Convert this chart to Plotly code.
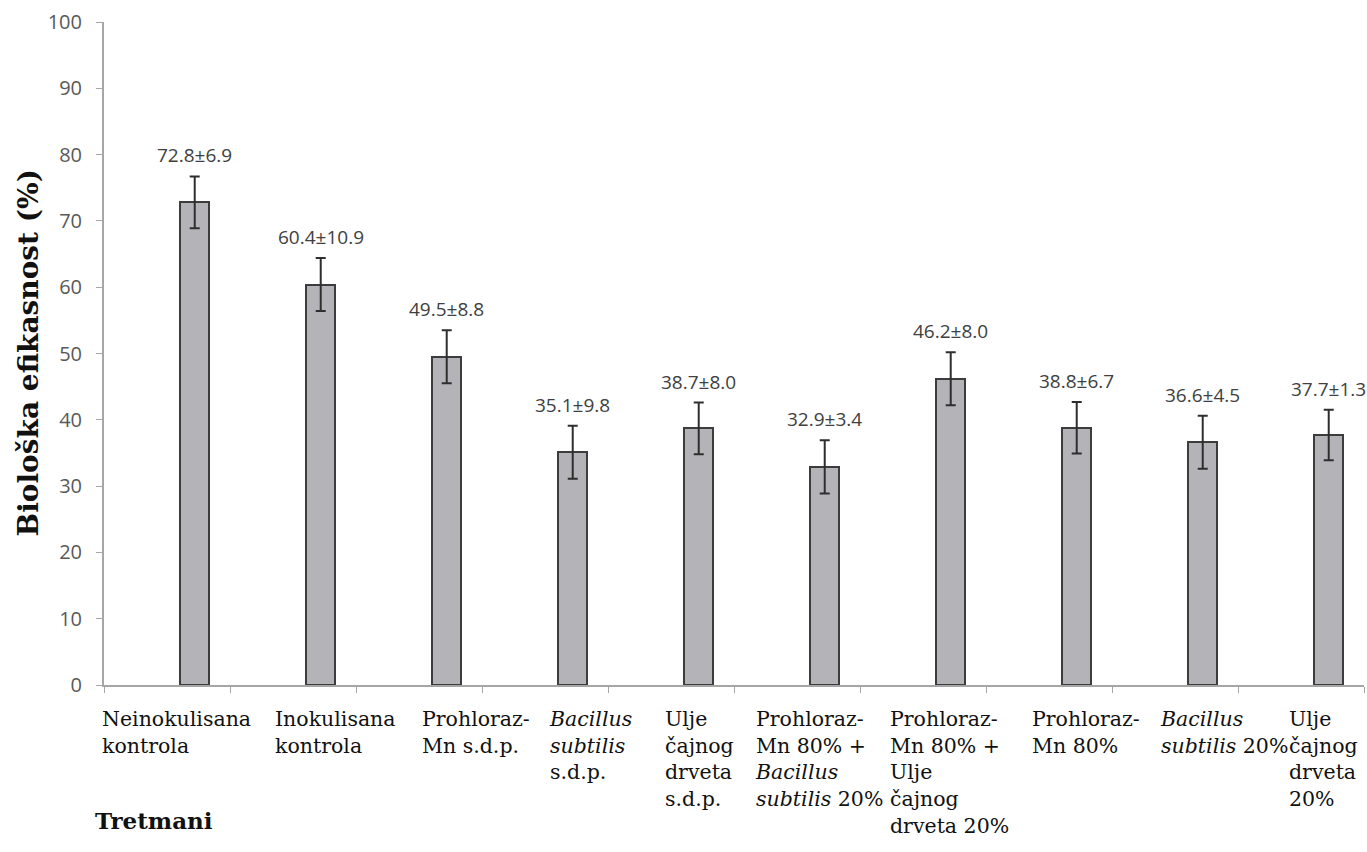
import plotly.graph_objects as go

categories = [
    "Neinokulisana<br>kontrola",
    "Inokulisana<br>kontrola",
    "Prohloraz-<br>Mn s.d.p.",
    "<i>Bacillus</i><br><i>subtilis</i><br>s.d.p.",
    "Ulje<br>čajnog<br>drveta<br>s.d.p.",
    "Prohloraz-<br>Mn 80% +<br><i>Bacillus</i><br><i>subtilis</i> 20%",
    "Prohloraz-<br>Mn 80% +<br>Ulje<br>čajnog<br>drveta 20%",
    "Prohloraz-<br>Mn 80%",
    "<i>Bacillus</i><br><i>subtilis</i> 20%",
    "Ulje<br>čajnog<br>drveta<br>20%",
]
values = [72.8, 60.4, 49.5, 35.1, 38.7, 32.9, 46.2, 38.8, 36.6, 37.7]
sd_text = [6.9, 10.9, 8.8, 9.8, 8.0, 3.4, 8.0, 6.7, 4.5, 1.3]
err_drawn = [3.9, 4.0, 4.0, 4.0, 3.9, 4.0, 4.0, 3.9, 4.0, 3.8]
y_ticks = [0, 10, 20, 30, 40, 50, 60, 70, 80, 90, 100]

W, H = 1367, 852
ML, MR, MT, MB = 104, 3, 22, 167
plot_w = W - ML - MR

n = len(categories)
bar_offset = 0.22
xs = [i + bar_offset for i in range(n)]

fig = go.Figure()
fig.add_trace(go.Bar(
    x=xs, y=values, width=0.23,
    marker=dict(color="#b4b4b8", line=dict(color="#3c3c3c", width=2)),
    error_y=dict(type="data", array=err_drawn, visible=True,
                 color="#2e2e2e", thickness=2, width=5),
    hoverinfo="skip", showlegend=False,
))

annotations = []
# value labels
for x, v, s, e in zip(xs, values, sd_text, err_drawn):
    annotations.append(dict(
        x=x, y=v + e, xref="x", yref="y", text=f"{v:.1f}±{s:.1f}",
        showarrow=False, yanchor="bottom", xanchor="center", yshift=6,
        font=dict(family="Open Sans", size=19, color="#404040"),
    ))

# category labels (left-aligned blocks, positions as in the original layout)
label_left_px = [100, 273, 420, 547, 663, 753, 888, 1030, 1158, 1287]
for lab, px in zip(categories, label_left_px):
    annotations.append(dict(
        x=(px - ML) / plot_w, y=0, xref="paper", yref="paper", text=lab,
        showarrow=False, xanchor="left", yanchor="top", align="left", yshift=-20,
        font=dict(family="DejaVu Serif", size=20.5, color="#111111"),
    ))

# axis titles
annotations.append(dict(
    x=(28 - ML) / plot_w, y=0.5, xref="paper", yref="paper",
    text="<b>Biološka efikasnost (%)</b>", textangle=-90, showarrow=False,
    xanchor="center", yanchor="middle",
    font=dict(family="DejaVu Serif", size=28, color="#111111"),
))
annotations.append(dict(
    x=(93 - ML) / plot_w, y=0, xref="paper", yref="paper",
    text="<b>Tretmani</b>", showarrow=False, xanchor="left", yanchor="middle",
    yshift=-(820 - (H - MB)),
    font=dict(family="DejaVu Serif", size=23, color="#111111"),
))

fig.update_layout(
    width=W, height=H,
    margin=dict(l=ML, r=MR, t=MT, b=MB),
    paper_bgcolor="white", plot_bgcolor="white",
    annotations=annotations,
    bargap=0,
)
fig.update_xaxes(
    range=[-0.5, n - 0.5], tickvals=[i - 0.5 for i in range(n + 1)],
    showticklabels=False, ticks="outside", ticklen=6, tickcolor="#a6a6a6",
    showline=True, linecolor="#a6a6a6", linewidth=2, showgrid=False, zeroline=False,
)
fig.update_yaxes(
    range=[0, 100], tickvals=y_ticks,
    ticks="outside", ticklen=6, tickcolor="#a6a6a6",
    showline=True, linecolor="#a6a6a6", linewidth=2, showgrid=False, zeroline=False,
    tickfont=dict(family="Open Sans", size=20, color="#595959"),
    ticklabelstandoff=10,
)

fig.write_html("out.html")
